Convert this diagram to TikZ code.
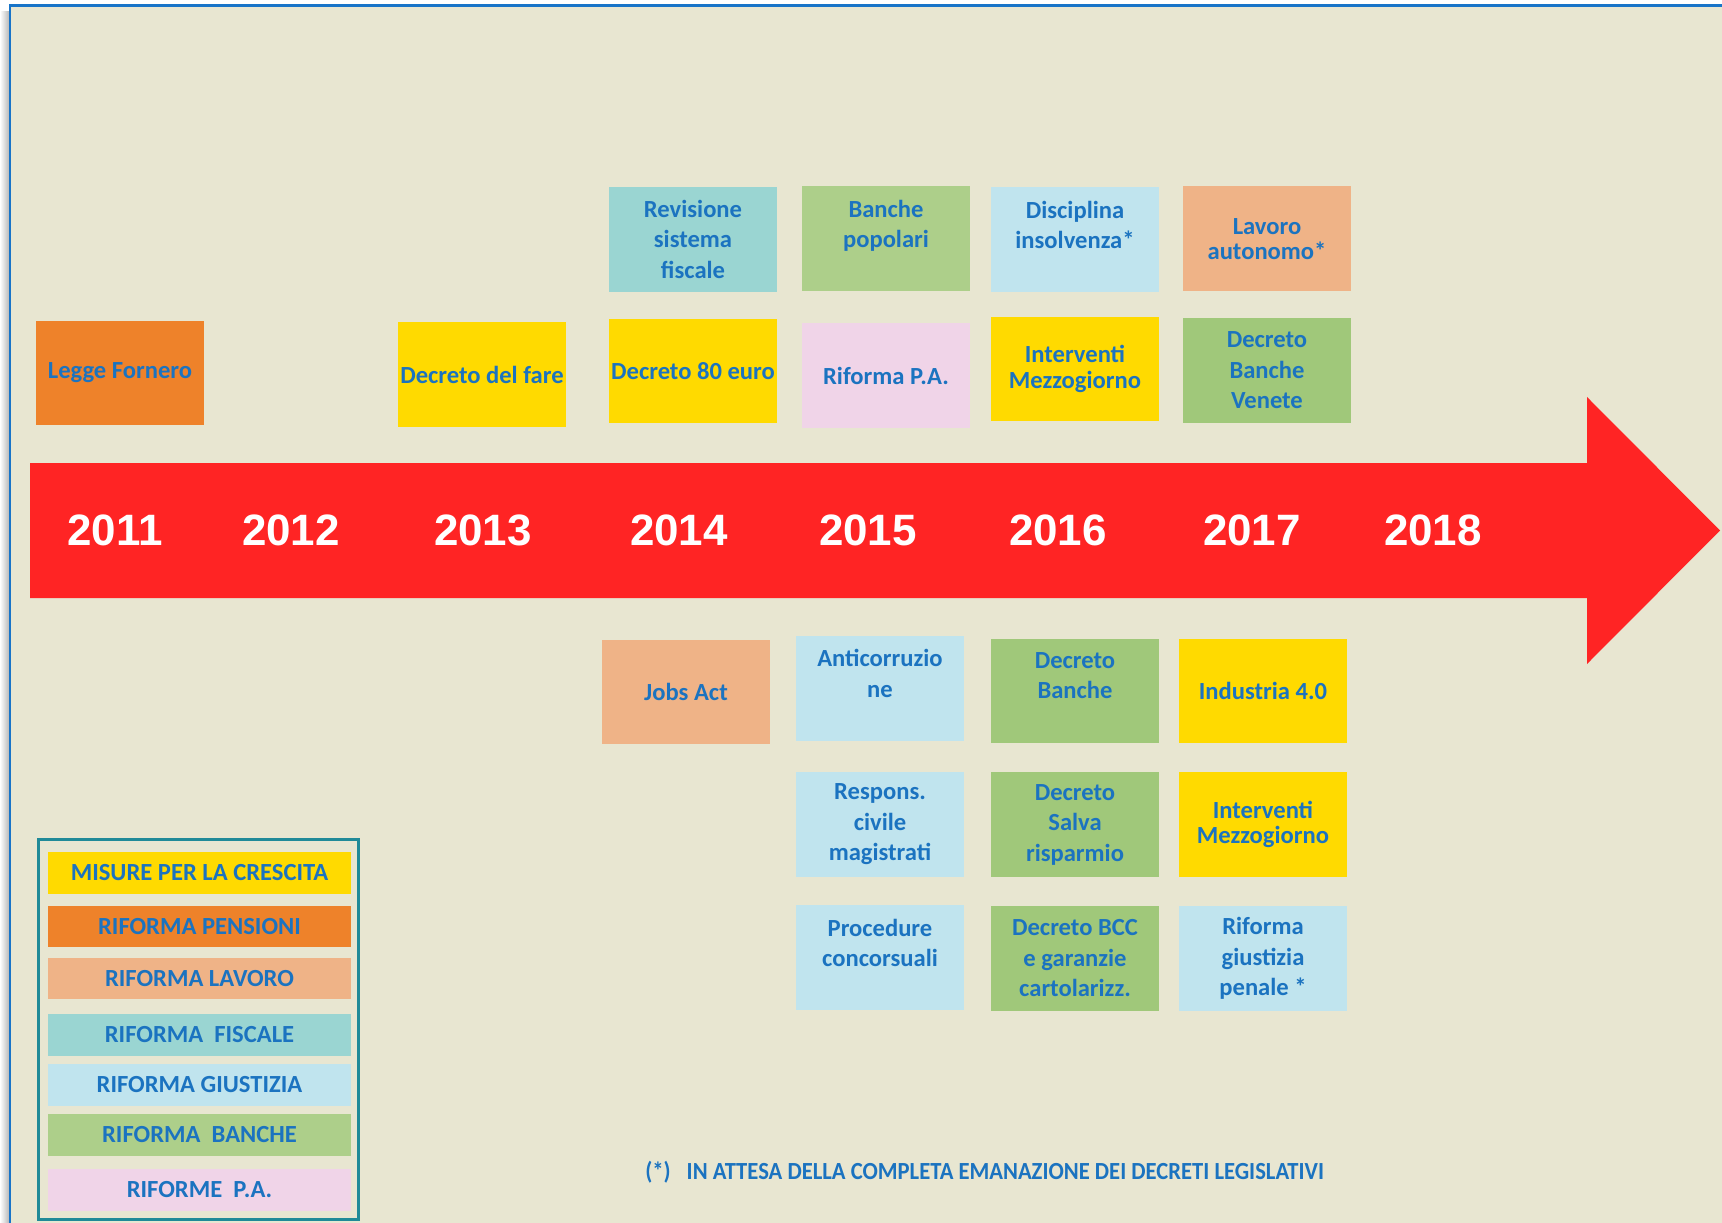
\documentclass[tikz,border=0pt]{standalone}
\usepackage{fontspec}
\setmainfont{Carlito}
\newfontfamily\yearfont{Liberation Sans}
\newfontfamily\notefont[FakeStretch=0.92]{Carlito}
\usetikzlibrary{positioning}

\definecolor{paper}{RGB}{232,230,209}
\definecolor{frameblue}{RGB}{24,116,200}
\definecolor{arrowred}{RGB}{255,36,36}
\definecolor{txtblue}{RGB}{27,115,192}
\definecolor{crescita}{RGB}{255,218,0}
\definecolor{pensioni}{RGB}{238,130,42}
\definecolor{lavoro}{RGB}{239,179,135}
\definecolor{fisco}{RGB}{154,213,210}
\definecolor{giustizia}{RGB}{192,228,238}
\definecolor{banca}{RGB}{173,207,138}
\definecolor{bancascura}{RGB}{160,200,122}
\definecolor{riformapa}{RGB}{240,212,232}
\definecolor{legendteal}{RGB}{32,138,152}

\begin{document}
\begin{tikzpicture}[x=0.02cm, y=-0.02cm, node distance=0.56cm,
	box/.style={rectangle, text centered, align=center, minimum width=3.38cm, minimum height=2.1cm, inner sep=0pt, text=txtblue, font=\fontsize{14}{17.3}\selectfont\bfseries},
	key/.style={rectangle, text centered, minimum width=6.06cm, minimum height=0.83cm, inner sep=0pt, text=txtblue, font=\fontsize{14}{17}\selectfont\bfseries},
	year/.style={text=white, font=\yearfont\fontsize{25}{30}\selectfont\bfseries}]
	\useasboundingbox (0,0) rectangle (1722,1223);
	% sheet with its blue frame and shadow
	\fill[white] (0,0) rectangle (1722,1223);
	\shade[left color=white, right color=gray!55] (0,12) rectangle (9,1223);
	\fill[paper] (10,6) rectangle (1732,1233);
	\draw[frameblue, line width=0.06cm] (10,1233) -- (10,6) -- (1732,6);

	% timeline arrow
	\fill[arrowred] (30,463) -- (1587,463) -- (1587,397) -- (1720,530.5) -- (1587,664) -- (1587,598) -- (30,598) -- cycle;
	\foreach \yr/\xx in {2011/115,2012/291,2013/483,2014/679,2015/868,2016/1058,2017/1252,2018/1433}
		\node[year] (y\yr) at (\xx,530) {\yr};

	% above the arrow
	\node[box, fill=pensioni] (fornero) at (120,373) {Legge Fornero};
	\node[box, fill=crescita] (fare) at (482,374.5) {Decreto del fare};
	\node[box, fill=crescita] (ottanta) at (693,371) {Decreto 80 euro};
	\node[box, fill=riformapa] (pa) at (886,375.5) {Riforma P.A.};
	\node[box, fill=crescita] (mezzoA) at (1075,369) {Interventi\\[-3pt]Mezzogiorno};
	\node[box, fill=bancascura] (venete) at (1267,370.5) {Decreto\\Banche\\Venete};
	\node[box, fill=fisco] (fiscale) [above=0.52cm of ottanta]{Revisione\\sistema\\fiscale};
	\node[box, fill=banca] (popolari) [above=0.62cm of pa]{Banche\\popolari\\~};
	\node[box, fill=giustizia] (insolvenza) [above=0.47cm of mezzoA]{Disciplina\\insolvenza*\\~};
	\node[box, fill=lavoro] (autonomo) [above=0.52cm of venete]{Lavoro\\[-3pt]autonomo*};

	% below the arrow
	\node[box, fill=lavoro] (jobs) at (686,692) {Jobs Act};
	\node[box, fill=giustizia] (anticorr) at (880,688.5) {Anticorruzio\\ne\\~};
	\node[box, fill=giustizia] (respons) [below=0.6cm of anticorr]{Respons.\\civile\\magistrati};
	\node[box, fill=giustizia] (procedure) [below=of respons]{Procedure\\concorsuali\\~};
	\node[box, fill=bancascura] (banche) at (1075,691) {Decreto\\Banche\\~};
	\node[box, fill=bancascura] (salva) [below=of banche]{Decreto\\Salva\\risparmio};
	\node[box, fill=bancascura] (bcc) [below=of salva]{Decreto BCC\\e garanzie\\cartolarizz.};
	\node[box, fill=crescita] (industria) at (1263,691) {Industria 4.0};
	\node[box, fill=crescita] (mezzoB) [below=of industria]{Interventi\\[-3pt]Mezzogiorno};
	\node[box, fill=giustizia] (penale) [below=of mezzoB]{Riforma\\giustizia\\penale *};

	% legend
	\draw[legendteal, line width=0.06cm] (38.5,839) rectangle (358.5,1219.5);
	\foreach \k/\col/\yy/\txt in {kcrescita/crescita/873/MISURE PER LA CRESCITA,
		kpensioni/pensioni/926.5/RIFORMA PENSIONI,
		klavoro/lavoro/978.5/RIFORMA LAVORO,
		kfisco/fisco/1035/RIFORMA~~FISCALE,
		kgiustizia/giustizia/1085/RIFORMA GIUSTIZIA,
		kbanca/banca/1135/RIFORMA~~BANCHE,
		kpa/riformapa/1190/RIFORME~~P.A.}
		\node[key, fill=\col] (\k) at (199.5,\yy) {\txt};

	\node[anchor=west, inner sep=0pt, text=txtblue, font=\notefont\bfseries\fontsize{14}{16.5}\selectfont] (nota) at (645,1172) {(*)\hspace{0.32cm}IN ATTESA DELLA COMPLETA EMANAZIONE DEI DECRETI LEGISLATIVI};
\end{tikzpicture}
\end{document}
